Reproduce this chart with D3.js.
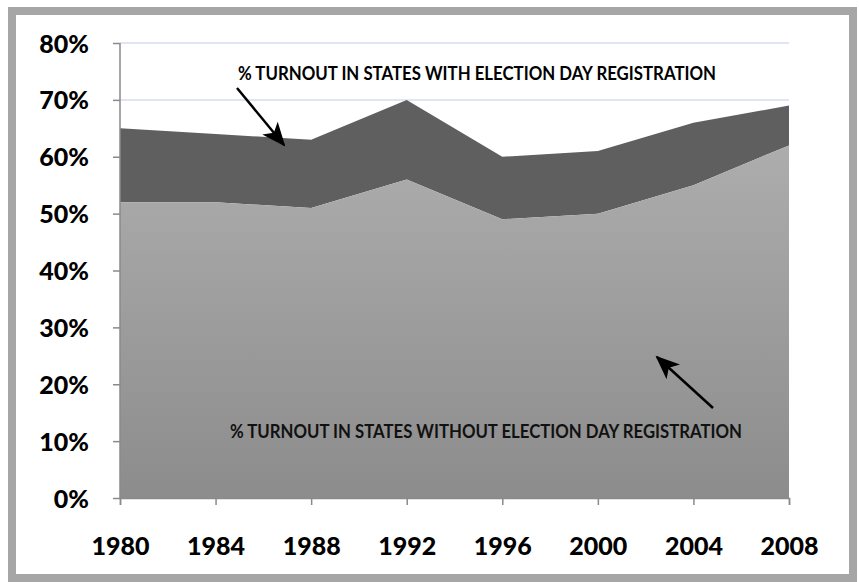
<!DOCTYPE html>
<html>
<head>
<meta charset="utf-8">
<script src="https://cdn.jsdelivr.net/npm/d3@7"></script>
<style>
  body { margin: 0; background: #fff; }
  svg { display: block; }
</style>
</head>
<body>
<div id="chart"></div>
<script>
// election years and turnout (%)
var years = [1980, 1984, 1988, 1992, 1996, 2000, 2004, 2008];
var withEDR = [65, 64, 63, 70, 60, 61, 66, 69];
var withoutEDR = [52, 52, 51, 56, 49, 50, 55, 62];
var yTicks = [0, 10, 20, 30, 40, 50, 60, 70, 80];
var gridTicks = [70, 80];
var labelTop = "% TURNOUT IN STATES WITH ELECTION DAY REGISTRATION";
var labelBottom = "% TURNOUT IN STATES WITHOUT ELECTION DAY REGISTRATION";

var width = 859, height = 582;
var margin = {top: 43, left: 120, right: 70, bottom: 84};
var font = "Lato, 'Open Sans', sans-serif";

var svg = d3.select("#chart").append("svg")
	.attr("width", width)
	.attr("height", height);

// frame
svg.append("rect")
	.attr("x", 12).attr("y", 11)
	.attr("width", 841).attr("height", 567)
	.attr("fill", "#fff")
	.attr("stroke", "#a6a6a6")
	.attr("stroke-width", 8);

var x = d3.scaleLinear()
	.domain([1980, 2008])
	.range([margin.left, width - margin.right]);

var y = d3.scaleLinear()
	.domain([0, 80])
	.range([height - margin.bottom, margin.top]);

var defs = svg.append("defs");
var grad = defs.append("linearGradient")
	.attr("id", "lowgrad")
	.attr("x1", 0).attr("y1", 0).attr("x2", 0).attr("y2", 1);
grad.append("stop").attr("offset", "0%").attr("stop-color", "#adadad");
grad.append("stop").attr("offset", "100%").attr("stop-color", "#8c8c8c");

defs.append("marker")
	.attr("id", "head")
	.attr("viewBox", "0 0 12 10")
	.attr("refX", 11).attr("refY", 5)
	.attr("markerWidth", 10).attr("markerHeight", 8)
	.attr("markerUnits", "strokeWidth")
	.attr("orient", "auto")
	.append("path")
	.attr("d", "M0,0 L12,5 L0,10 L3,5 z")
	.attr("fill", "#000");

// gridlines
svg.append("g")
	.selectAll("line")
	.data(gridTicks)
	.enter().append("line")
	.attr("x1", x(1980)).attr("x2", x(2008))
	.attr("y1", function(d) { return y(d); })
	.attr("y2", function(d) { return y(d); })
	.attr("stroke", "#d6ddef")
	.attr("stroke-width", 1.5);

var rows = years.map(function(yr, i) {
	return {year: yr, hi: withEDR[i], lo: withoutEDR[i]};
});

var areaHi = d3.area()
	.x(function(d) { return x(d.year); })
	.y0(function(d) { return y(d.lo); })
	.y1(function(d) { return y(d.hi); });

var areaLo = d3.area()
	.x(function(d) { return x(d.year); })
	.y0(y(0))
	.y1(function(d) { return y(d.lo); });

svg.append("path")
	.datum(rows)
	.attr("d", areaHi)
	.attr("fill", "#5f5f5f");

svg.append("path")
	.datum(rows)
	.attr("d", areaLo)
	.attr("fill", "url(#lowgrad)");

// axes
var yAxis = d3.axisLeft(y)
	.tickValues(yTicks)
	.tickSize(7)
	.tickPadding(24)
	.tickFormat(function(d) { return d + "%"; });

var xAxis = d3.axisBottom(x)
	.tickValues(years)
	.tickSize(7)
	.tickPadding(32)
	.tickFormat(d3.format("d"));

var gy = svg.append("g")
	.attr("transform", "translate(" + margin.left + ",0)")
	.call(yAxis);

var gx = svg.append("g")
	.attr("transform", "translate(0," + y(0) + ")")
	.call(xAxis);

[gx, gy].forEach(function(g) {
	g.select(".domain").attr("stroke", "#8a8a8a").attr("stroke-width", 1.5);
	g.selectAll(".tick line").attr("stroke", "#8a8a8a").attr("stroke-width", 1.5);
	g.selectAll(".tick text")
		.attr("fill", "#000")
		.style("font-family", font)
		.style("font-weight", "900")
		.style("font-size", "25px");
});
gy.select(".domain").attr("d", "M0," + y(80) + "V" + y(0));
gy.selectAll(".tick text").attr("dy", "0.36em");

// annotations
svg.append("text")
	.attr("x", 238).attr("y", 80)
	.attr("textLength", 478)
	.attr("lengthAdjust", "spacingAndGlyphs")
	.style("font-family", font)
	.style("font-weight", "bold")
	.style("font-size", "18px")
	.attr("fill", "#000")
	.text(labelTop);

svg.append("text")
	.attr("x", 230).attr("y", 438)
	.attr("textLength", 512)
	.attr("lengthAdjust", "spacingAndGlyphs")
	.style("font-family", font)
	.style("font-weight", "bold")
	.style("font-size", "18px")
	.attr("fill", "#111")
	.text(labelBottom);

var arrows = [
	{x1: 237, y1: 88, x2: 284, y2: 145},
	{x1: 713, y1: 408, x2: 657, y2: 357}
];

svg.append("g")
	.selectAll("line")
	.data(arrows)
	.enter().append("line")
	.attr("x1", function(d) { return d.x1; })
	.attr("y1", function(d) { return d.y1; })
	.attr("x2", function(d) { return d.x2; })
	.attr("y2", function(d) { return d.y2; })
	.attr("stroke", "#000")
	.attr("stroke-width", 2.5)
	.attr("marker-end", "url(#head)");
</script>
</body>
</html>
